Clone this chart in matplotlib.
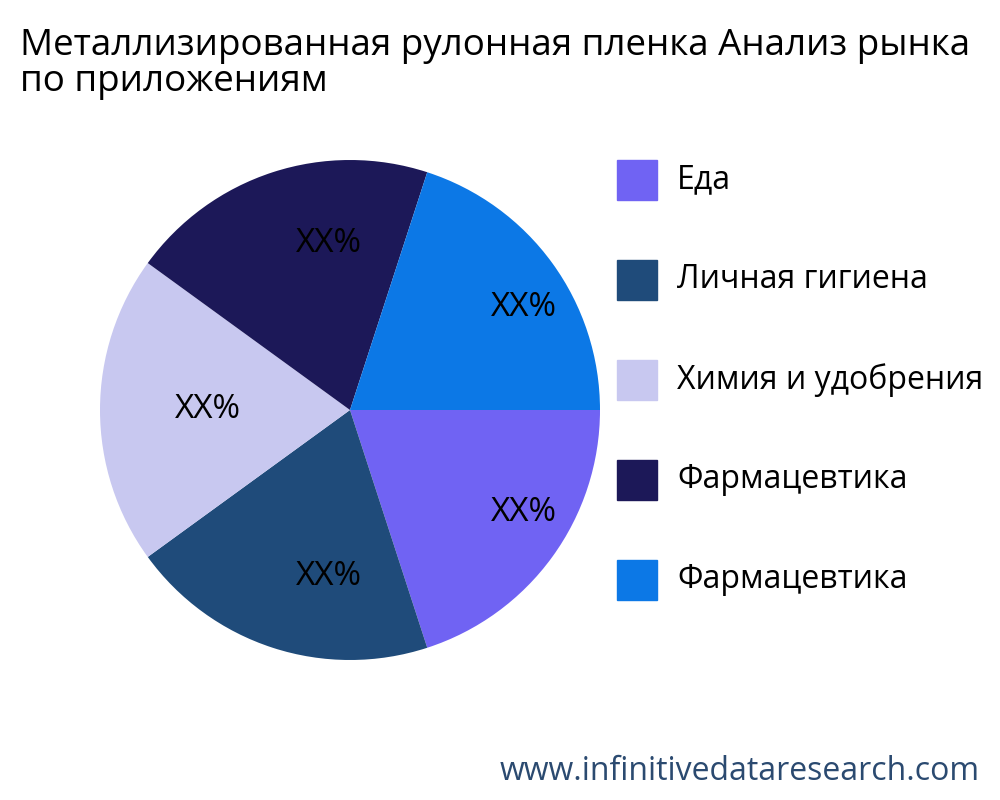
import matplotlib
matplotlib.use("Agg")
import matplotlib.pyplot as plt
from matplotlib.patches import Rectangle

plt.rcParams['font.family'] = ['Open Sans', 'DejaVu Sans']

categories = ["Еда", "Личная гигиена", "Химия и удобрения", "Фармацевтика", "Фармацевтика"]
values = [20, 20, 20, 20, 20]
labels = ["XX%"] * 5
colors = ["#7063F3", "#1F4B7A", "#C8C8F0", "#1C1858", "#0C78E6"]

fig = plt.figure(figsize=(10, 8), dpi=100)
ax = fig.add_axes([0.1, 0.175, 0.5, 0.625])
wedges, texts = ax.pie(values, colors=colors, startangle=0, counterclock=False,
                       labels=labels, labeldistance=0.7,
                       textprops=dict(fontsize=24, color='black', ha='center', va='center'))
for t in texts:
    x, y = t.get_position()
    t.set_position((x + 0.13, y))
ax.set_xlim(-1, 1)
ax.set_ylim(-1, 1)
ax.set_aspect('equal')

fig.text(0.02, 0.965, "Металлизированная рулонная пленка Анализ рынка\nпо приложениям",
         fontsize=26.5, va='top', ha='left', linespacing=1.0)

for i, (cat, col) in enumerate(zip(categories, colors)):
    yc = 1 - (180 + 100 * i) / 800
    fig.patches.append(Rectangle((0.617, yc - 0.025), 0.04, 0.05, color=col,
                                 transform=fig.transFigure, figure=fig))
    fig.text(0.677, yc, cat, fontsize=23, va='center', ha='left')

fig.text(0.98, 0.035, "www.infinitivedataresearch.com", fontsize=23,
         color='#2B4A70', ha='right', va='center')

fig.savefig("out.png", dpi=100)
